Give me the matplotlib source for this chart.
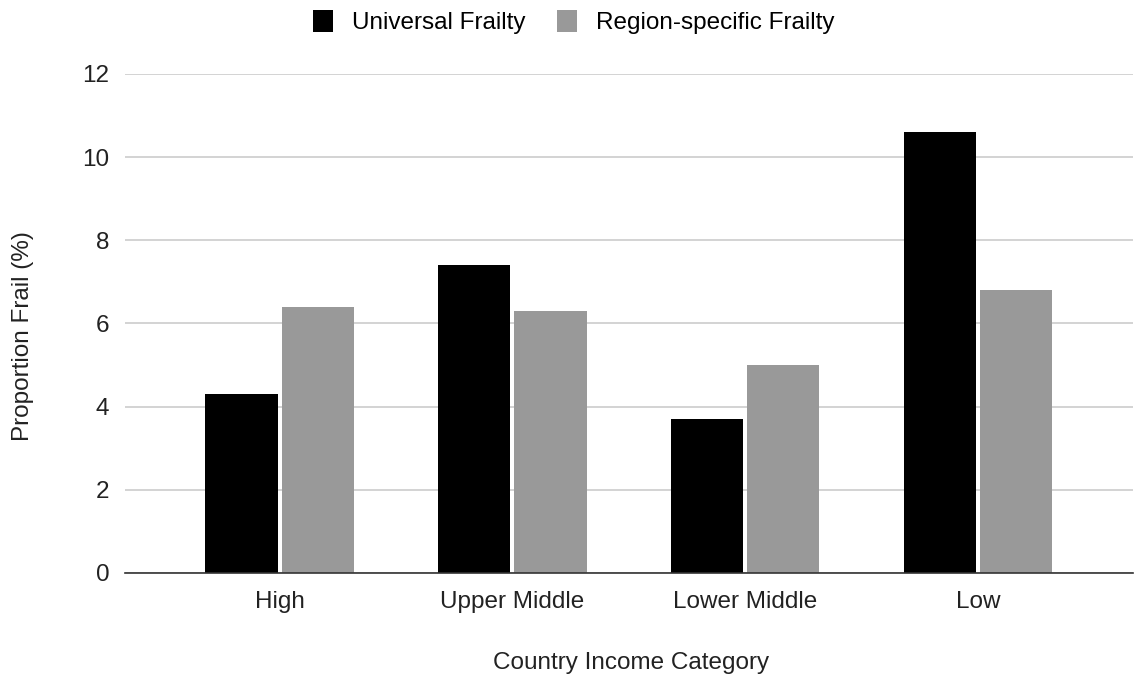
import matplotlib.pyplot as plt
import numpy as np

plt.rcParams['font.family'] = ['Liberation Sans', 'DejaVu Sans']

categories = ['High', 'Upper Middle', 'Lower Middle', 'Low']
universal = [4.3, 7.4, 3.7, 10.6]
regional = [6.4, 6.3, 5.0, 6.8]

fig = plt.figure(figsize=(11.34, 6.82), dpi=100)
ax = fig.add_axes([0.110, 0.160, 0.889, 0.7315])

x = np.arange(len(categories))
w = 0.31
gap = 0.0086
b1 = ax.bar(x - w / 2 - gap, universal, w, color='#000000', label='Universal Frailty', zorder=3)
b2 = ax.bar(x + w / 2 + gap, regional, w, color='#999999', label='Region-specific Frailty', zorder=3)

fs = 17.5
txt = '#222222'
ax.set_xlim(-0.665, 3.665)
ax.set_ylim(0, 12)
ax.set_yticks(range(0, 13, 2))
ax.set_xticks(x)
ax.set_xticklabels(categories)
ax.tick_params(length=0, labelsize=fs, colors=txt)
ax.tick_params(axis='y', pad=11)
ax.tick_params(axis='x', pad=13)

ax.grid(axis='y', color='#cccccc', linewidth=1.2, zorder=0)
for s in ['top', 'right', 'left']:
    ax.spines[s].set_visible(False)
ax.spines['bottom'].set_color('#333333')
ax.spines['bottom'].set_linewidth(1.2)
ax.spines['bottom'].set_zorder(4)

# axis titles placed in figure coordinates
fig.text(23 / 1134, 1 - 336 / 682, 'Proportion Frail (%)', rotation=90,
         ha='center', va='center', fontsize=fs, color=txt)
fig.text(631 / 1134, 1 - 663 / 682, 'Country Income Category',
         ha='center', va='center', fontsize=fs, color=txt)

fig.legend(handles=[b1, b2], loc='upper center', bbox_to_anchor=(0.5057, 1.017), ncol=2,
           frameon=False, fontsize=fs, handlelength=0.85, handleheight=1.0,
           columnspacing=1.3, handletextpad=0.75)

fig.savefig('out.png', dpi=100, facecolor='white')
